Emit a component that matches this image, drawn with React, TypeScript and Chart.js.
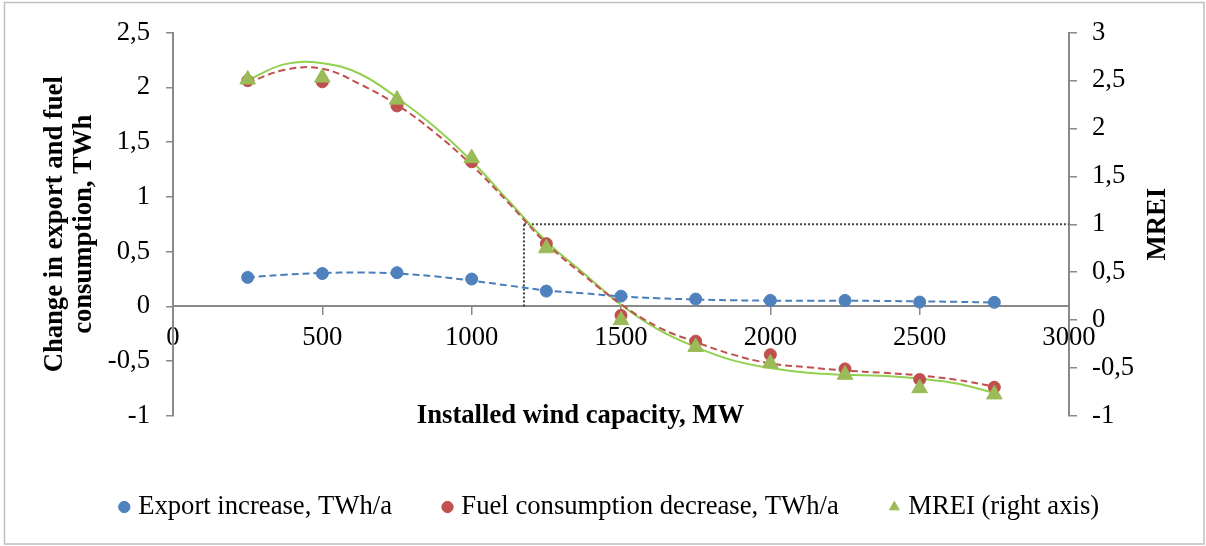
import React, { useEffect, useRef } from 'react';
import { Chart, registerables } from 'chart.js';

Chart.register(...registerables);

// ---- data ----
const CAPACITY_MW = [250, 500, 750, 1000, 1250, 1500, 1750, 2000, 2250, 2500, 2750];
const EXPORT_INCREASE = [0.265, 0.3, 0.308, 0.25, 0.14, 0.094, 0.067, 0.055, 0.055, 0.04, 0.037];
const FUEL_DECREASE = [2.06, 2.05, 1.83, 1.32, 0.573, -0.082, -0.317, -0.44, -0.57, -0.667, -0.737];
const MREI_VALUES = [2.51, 2.53, 2.3, 1.69, 0.75, 0.0, -0.28, -0.45, -0.57, -0.71, -0.775];

// trend lines
const TREND_X = [250, 375, 500, 625, 750, 875, 1000, 1125, 1250, 1375, 1500, 1625, 1750, 1875, 2000, 2125, 2250, 2375, 2500, 2625, 2750];
const TREND_EXPORT = [0.265, 0.29, 0.305, 0.31, 0.3, 0.275, 0.235, 0.19, 0.146, 0.12, 0.092, 0.074, 0.064, 0.056, 0.053, 0.052, 0.052, 0.05, 0.046, 0.042, 0.036];
const TREND_FUEL = [2.04, 2.16, 2.17, 2.03, 1.84, 1.59, 1.29, 0.94, 0.575, 0.285, 0.02, -0.19, -0.325, -0.44, -0.52, -0.555, -0.585, -0.605, -0.63, -0.67, -0.73];
const TREND_MREI = [2.5, 2.67, 2.68, 2.57, 2.32, 2.02, 1.66, 1.24, 0.82, 0.49, 0.16, -0.1, -0.28, -0.42, -0.5, -0.55, -0.57, -0.58, -0.61, -0.66, -0.76];

// threshold guide (MREI = 1)
const THRESHOLD_X = [1175, 3000];
const THRESHOLD_LEFT = [0, 0.75];
const THRESHOLD_MREI = 1;

const SERIES_LABELS = ['Export increase, TWh/a', 'Fuel consumption decrease, TWh/a', 'MREI (right axis)'];
const LEFT_TITLE = ['Change in export and fuel', 'consumption, TWh'];
const RIGHT_TITLE = 'MREI';
const X_TITLE = 'Installed wind capacity, MW';

const FONT = "'Liberation Serif', 'Times New Roman', serif";
const FS = 26.67;
const AXIS_GRAY = '#898989';

const fmt = (v: any) => {
  const n = Math.round(Number(v) * 10) / 10;
  return String(n).replace('.', ',');
};

const framePlugin = {
  id: 'frame',
  beforeDraw(chart: any) {
    const ctx = chart.ctx;
    ctx.save();
    ctx.fillStyle = '#ffffff';
    ctx.fillRect(0, 0, chart.width, chart.height);
    ctx.strokeStyle = '#BFBFBF';
    ctx.lineWidth = 1.5;
    ctx.strokeRect(4.5, 2.5, 1199.5, 541.5);
    ctx.restore();
  },
  afterDraw(chart: any) {
    const ctx = chart.ctx;
    const area = chart.chartArea;
    ctx.save();
    ctx.fillStyle = '#000';
    ctx.font = `bold ${FS}px ${FONT}`;
    ctx.textAlign = 'center';
    ctx.textBaseline = 'middle';
    ctx.fillText(X_TITLE, 580.5, area.bottom);
    ctx.translate(1158.5, (area.top + area.bottom) / 2);
    ctx.rotate(-Math.PI / 2);
    ctx.fillText(RIGHT_TITLE, 0, 0);
    ctx.restore();
  },
};

export default function App() {
  const ref = useRef<HTMLCanvasElement>(null);

  useEffect(() => {
    if (!ref.current) return;
    Chart.defaults.font.family = FONT;
    Chart.defaults.color = '#000';

    const pts = (xs: number[], ys: number[]) => xs.map((x, i) => ({ x, y: ys[i] }));

    const chart = new Chart(ref.current, {
      type: 'scatter',
      data: {
        datasets: [
          {
            label: SERIES_LABELS[0],
            data: pts(CAPACITY_MW, EXPORT_INCREASE),
            yAxisID: 'y',
            pointStyle: 'circle',
            pointRadius: 6,
            backgroundColor: '#4F81BD',
            borderColor: '#4F81BD',
            borderWidth: 1,
            order: 2,
          },
          {
            label: SERIES_LABELS[1],
            data: pts(CAPACITY_MW, FUEL_DECREASE),
            yAxisID: 'y',
            pointStyle: 'circle',
            pointRadius: 6,
            backgroundColor: '#C0504D',
            borderColor: '#C0504D',
            borderWidth: 1,
            order: 2,
          },
          {
            label: SERIES_LABELS[2],
            data: pts(CAPACITY_MW, MREI_VALUES),
            yAxisID: 'y2',
            pointStyle: 'triangle',
            pointRadius: 9,
            backgroundColor: '#9BBB59',
            borderColor: '#9BBB59',
            borderWidth: 1,
            order: 1,
          },
          {
            label: 'trend-export',
            data: pts(TREND_X, TREND_EXPORT),
            yAxisID: 'y',
            showLine: true,
            pointRadius: 0,
            borderColor: '#4A7EBB',
            borderWidth: 2,
            borderDash: [7, 4],
            tension: 0.4,
            order: 3,
          },
          {
            label: 'trend-fuel',
            data: pts(TREND_X, TREND_FUEL),
            yAxisID: 'y',
            showLine: true,
            pointRadius: 0,
            borderColor: '#C0504D',
            borderWidth: 2,
            borderDash: [7, 4],
            tension: 0.4,
            order: 3,
          },
          {
            label: 'trend-mrei',
            data: pts(TREND_X, TREND_MREI),
            yAxisID: 'y2',
            showLine: true,
            pointRadius: 0,
            borderColor: '#92D050',
            borderWidth: 2,
            tension: 0.4,
            order: 3,
          },
          {
            label: 'guide-vertical',
            data: [
              { x: THRESHOLD_X[0], y: THRESHOLD_LEFT[0] },
              { x: THRESHOLD_X[0], y: THRESHOLD_LEFT[1] },
            ],
            yAxisID: 'y',
            showLine: true,
            pointRadius: 0,
            borderColor: '#404040',
            borderWidth: 2,
            borderDash: [2, 2],
            order: 4,
          },
          {
            label: 'guide-horizontal',
            data: [
              { x: THRESHOLD_X[0], y: THRESHOLD_MREI },
              { x: THRESHOLD_X[1], y: THRESHOLD_MREI },
            ],
            yAxisID: 'y2',
            showLine: true,
            pointRadius: 0,
            borderColor: '#404040',
            borderWidth: 2,
            borderDash: [2, 2],
            order: 4,
          },
        ],
      },
      options: {
        animation: false,
        responsive: false,
        devicePixelRatio: 1,
        layout: { padding: { left: 17, right: 0, top: 32.5, bottom: 15.66 } },
        scales: {
          x: {
            type: 'linear',
            min: 0,
            max: 3000,
            position: { y: 0 } as any,
            ticks: {
              stepSize: 500,
              padding: 7.5,
              color: '#000',
              font: { size: FS },
              maxRotation: 0,
              callback: (v: any) => String(v),
            },
            grid: { drawOnChartArea: false, drawTicks: true, tickLength: 8, color: AXIS_GRAY, lineWidth: 1.5 },
            border: { color: AXIS_GRAY, width: 2 },
          },
          y: {
            type: 'linear',
            position: 'left',
            min: -1,
            max: 2.5,
            ticks: { stepSize: 0.5, padding: 16, color: '#000', font: { size: FS }, callback: fmt },
            grid: { drawOnChartArea: false, drawTicks: true, tickLength: 7, color: AXIS_GRAY, lineWidth: 1.5 },
            border: { color: AXIS_GRAY, width: 2 },
            title: {
              display: true,
              text: LEFT_TITLE,
              color: '#000',
              font: { size: FS, weight: 'bold', lineHeight: 1.069 },
              padding: { top: 24.25, bottom: 0 },
            },
            afterFit: (s: any) => {
              s.width = 156;
            },
          },
          y2: {
            type: 'linear',
            position: 'right',
            min: -1,
            max: 3,
            ticks: { stepSize: 0.5, padding: 15, color: '#000', font: { size: FS }, callback: fmt },
            grid: { drawOnChartArea: false, drawTicks: true, tickLength: 8, color: AXIS_GRAY, lineWidth: 1.5 },
            border: { color: AXIS_GRAY, width: 2 },
            afterFit: (s: any) => {
              s.width = 137;
            },
          },
        },
        plugins: {
          tooltip: { enabled: false },
          legend: {
            position: 'bottom',
            align: 'center',
            title: { display: true, text: '', padding: { top: 10.67, bottom: 0 }, font: { size: 10 } },
            labels: {
              usePointStyle: true,
              boxWidth: 1,
              boxHeight: 8,
              padding: 55,
              color: '#000',
              font: { size: FS },
              filter: (item: any) => item.datasetIndex < 3,
              sort: (a: any, b: any) => a.datasetIndex - b.datasetIndex,
            },
          },
        },
      } as any,
      plugins: [framePlugin],
    });

    return () => chart.destroy();
  }, []);

  return (
    <div style={{ position: 'absolute', left: 0, top: 0, width: 1206, height: 546 }}>
      <canvas ref={ref} width={1206} height={546} style={{ display: 'block', width: 1206, height: 546 }} />
    </div>
  );
}
